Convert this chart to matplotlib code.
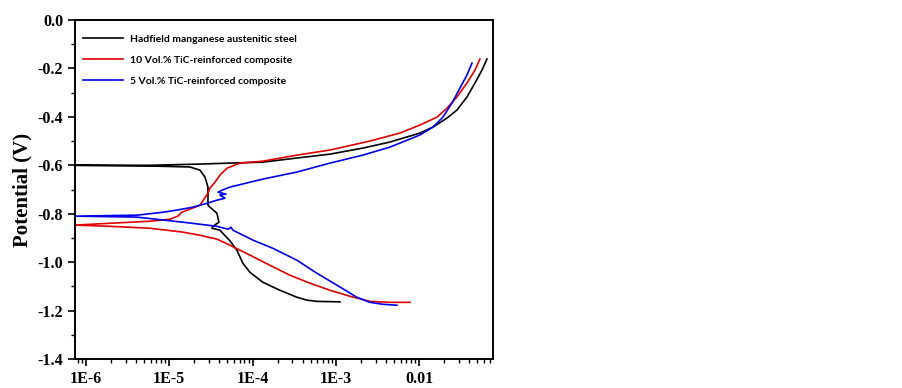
import numpy as np
import matplotlib.pyplot as plt
from matplotlib.ticker import FixedLocator, FixedFormatter, MultipleLocator, LogLocator, NullFormatter

# current density (A/cm2) and potential (V)
# Hadfield steel
hadfield_an_i = [7.4e-7, 5.86e-6, 2.34e-5, 5.36e-5, 1.33e-4, 3.41e-4, 8.49e-4, 2.11e-3,
                 4.46e-3, 1.02e-2, 1.47e-2, 2.16e-2, 2.84e-2, 3.75e-2, 4.68e-2, 5.68e-2, 6.52e-2]
hadfield_an_e = [-0.600, -0.600, -0.595, -0.591, -0.587, -0.570, -0.554, -0.529,
                 -0.504, -0.467, -0.442, -0.405, -0.372, -0.318, -0.260, -0.207, -0.161]
hadfield_ca_i = [7.4e-7, 5.86e-6, 1.77e-5, 2.34e-5, 2.69e-5, 2.92e-5, 2.92e-5, 3.08e-5,
                 3.74e-5, 3.95e-5, 3.35e-5, 3.26e-5, 4.06e-5, 5.36e-5, 6.50e-5, 7.67e-5,
                 9.31e-5, 1.33e-4, 2.13e-4, 3.41e-4, 4.50e-4, 5.93e-4, 1.12e-3]
hadfield_ca_e = [-0.600, -0.603, -0.607, -0.620, -0.649, -0.690, -0.765, -0.773,
                 -0.798, -0.835, -0.852, -0.860, -0.868, -0.912, -0.951, -1.005,
                 -1.042, -1.083, -1.116, -1.145, -1.157, -1.162, -1.164]

# 10 vol.% TiC composite
tic10_an_i = [7.4e-7, 5.86e-6, 1.02e-5, 1.27e-5, 1.42e-5, 1.77e-5, 2.34e-5, 2.92e-5,
              3.08e-5, 3.54e-5, 4.06e-5, 4.93e-5, 7.06e-5, 1.33e-4, 3.41e-4, 8.49e-4,
              2.56e-3, 5.87e-3, 1.02e-2, 1.64e-2, 2.16e-2, 2.84e-2, 3.75e-2, 4.68e-2, 5.37e-2]
tic10_an_e = [-0.847, -0.831, -0.823, -0.810, -0.794, -0.781, -0.765, -0.715,
              -0.695, -0.670, -0.641, -0.612, -0.591, -0.583, -0.558, -0.537,
              -0.500, -0.467, -0.434, -0.401, -0.364, -0.318, -0.260, -0.207, -0.161]
tic10_ca_i = [7.4e-7, 1.94e-6, 5.86e-6, 1.46e-5, 2.34e-5, 3.74e-5, 5.36e-5, 9.31e-5,
              1.62e-4, 2.81e-4, 4.89e-4, 8.49e-4, 1.48e-3, 2.56e-3, 4.46e-3, 7.76e-3]
tic10_ca_e = [-0.847, -0.852, -0.860, -0.876, -0.889, -0.905, -0.930, -0.971,
              -1.013, -1.054, -1.087, -1.116, -1.141, -1.162, -1.166, -1.166]

# 5 vol.% TiC composite
tic5_an_i = [7.4e-7, 4.09e-6, 8.39e-6, 1.24e-5, 1.92e-5, 2.84e-5, 3.74e-5, 4.67e-5,
             4.06e-5, 4.80e-5, 3.85e-5, 4.30e-5, 5.36e-5, 1.33e-4, 3.41e-4, 8.49e-4,
             2.11e-3, 4.46e-3, 1.02e-2, 1.47e-2, 1.93e-2, 2.48e-2, 3.09e-2, 3.75e-2, 4.31e-2]
tic5_an_e = [-0.810, -0.806, -0.794, -0.785, -0.773, -0.757, -0.744, -0.736,
             -0.723, -0.719, -0.711, -0.703, -0.690, -0.657, -0.628, -0.591,
             -0.558, -0.525, -0.475, -0.442, -0.401, -0.343, -0.281, -0.227, -0.178]
tic5_ca_i = [7.4e-7, 4.09e-6, 1.46e-5, 3.74e-5, 5.07e-5, 5.51e-5, 5.82e-5, 1.01e-4,
             1.76e-4, 3.41e-4, 5.93e-4, 1.03e-3, 1.79e-3, 2.56e-3, 3.67e-3, 5.41e-3]
tic5_ca_e = [-0.810, -0.814, -0.835, -0.852, -0.864, -0.856, -0.868, -0.909,
             -0.943, -0.992, -1.046, -1.095, -1.145, -1.166, -1.174, -1.178]

series = [
    ("Hadfield manganese austenitic steel", "black", hadfield_an_i, hadfield_an_e, hadfield_ca_i, hadfield_ca_e),
    ("10 Vol.% TiC-reinforced composite", "#e00000", tic10_an_i, tic10_an_e, tic10_ca_i, tic10_ca_e),
    ("5 Vol.% TiC-reinforced composite", "#0000e8", tic5_an_i, tic5_an_e, tic5_ca_i, tic5_ca_e),
]

x_ticks = [1e-6, 1e-5, 1e-4, 1e-3, 1e-2]
x_labels = ["1E-6", "1E-5", "1E-4", "1E-3", "0.01"]

fig = plt.figure(figsize=(9.02, 3.88), dpi=100)
ax = fig.add_axes([75 / 902, 29 / 388, 418 / 902, 339 / 388])

for name, col, ai, ae, ci, ce in series:
    # anodic branch reversed, then cathodic branch -> one continuous curve
    i_all = list(ai[::-1]) + list(ci)
    e_all = list(ae[::-1]) + list(ce)
    ax.plot(i_all, e_all, color=col, lw=1.2, label=name)

ax.set_xscale("log")
ax.set_xlim(7.4e-7, 0.077)
ax.set_ylim(-1.4, 0.0)

ax.xaxis.set_major_locator(FixedLocator(x_ticks))
ax.xaxis.set_major_formatter(FixedFormatter(x_labels))
ax.xaxis.set_minor_locator(LogLocator(base=10, subs=np.arange(2, 10)))
ax.xaxis.set_minor_formatter(NullFormatter())
ax.yaxis.set_major_locator(MultipleLocator(0.2))
ax.yaxis.set_minor_locator(MultipleLocator(0.1))
ax.yaxis.set_major_formatter(plt.FuncFormatter(lambda v, p: "%.1f" % v))

ax.tick_params(which="major", direction="out", length=5, width=1.2)
ax.tick_params(which="minor", direction="out", length=3, width=1.0)
for lab in ax.get_xticklabels() + ax.get_yticklabels():
    lab.set_fontfamily("Liberation Serif")
    lab.set_fontweight("bold")
    lab.set_fontsize(11.5)
for sp in ax.spines.values():
    sp.set_linewidth(1.4)

ax.set_ylabel("Potential (V)", fontfamily="Liberation Serif", fontweight="bold",
              fontsize=15, labelpad=4)

ax.legend(loc="upper left", bbox_to_anchor=(0.019, 0.957), frameon=False,
          borderpad=0, borderaxespad=0, handlelength=3.8, handletextpad=0.75,
          labelspacing=1.12, prop={"family": "Lato", "weight": "bold", "size": 7.5})

fig.savefig("out.png", dpi=100)
